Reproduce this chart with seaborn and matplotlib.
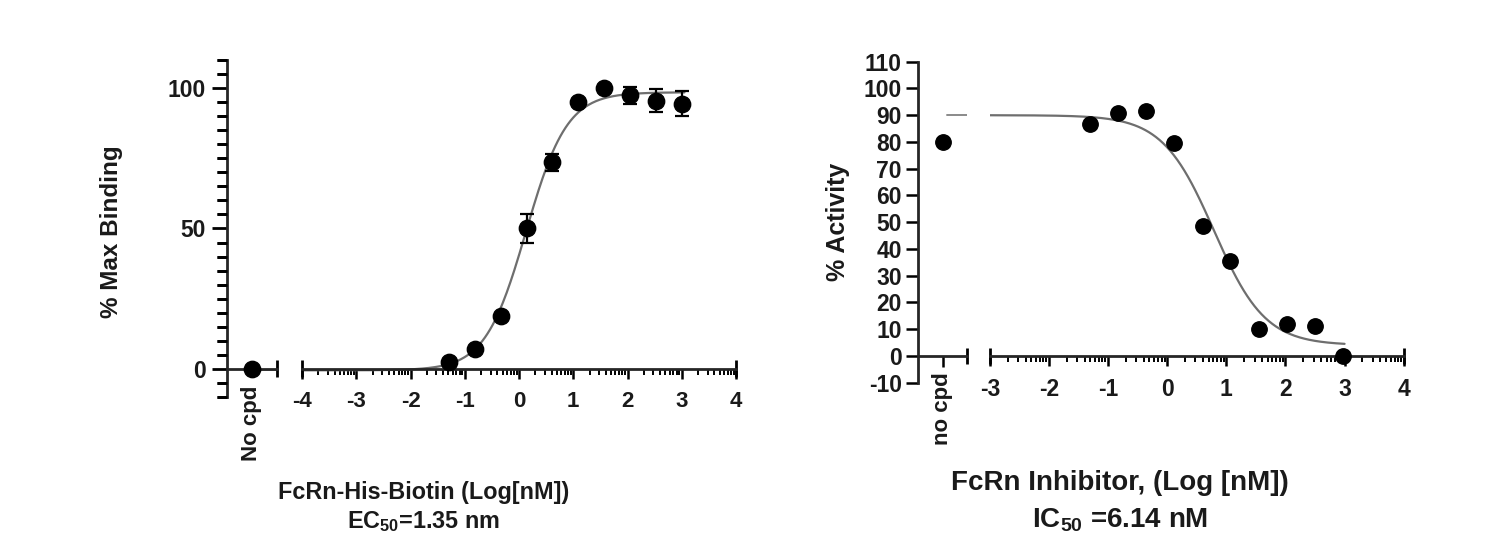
import numpy as np
import pandas as pd
import matplotlib
matplotlib.use("Agg")
import matplotlib.pyplot as plt
from matplotlib.ticker import MultipleLocator, FixedLocator, NullLocator
import seaborn as sns

# ---------------- data ----------------
left_x = [-1.29, -0.82, -0.34, 0.14, 0.61, 1.09, 1.57, 2.05, 2.52, 3.00]
left_y = [2.5, 7.0, 19.0, 50.0, 73.5, 95.0, 100.0, 97.5, 95.5, 94.5]
left_err = [0.0, 0.0, 0.0, 5.0, 3.0, 0.0, 0.0, 3.0, 4.0, 4.3]
left_nocpd_y = [0.0]
left_fit = dict(bottom=-0.5, top=98.5, logx50=np.log10(1.35), hill=1.15)

right_x = [-1.31, -0.83, -0.36, 0.11, 0.60, 1.06, 1.55, 2.03, 2.50, 2.97]
right_y = [86.6, 90.7, 91.4, 79.5, 48.5, 35.4, 10.0, 12.0, 11.2, 0.0]
right_nocpd_y = [80.0]
right_fit = dict(bottom=4.0, top=90.0, logx50=np.log10(6.14), hill=1.0)

left_xticks = [-4, -3, -2, -1, 0, 1, 2, 3, 4]
right_xticks = [-3, -2, -1, 0, 1, 2, 3, 4]
left_yticks = [0, 50, 100]
left_ystep = 5
right_yticks = list(range(-10, 111, 10))
YLIM = (-10, 110)

# ---------------- style ----------------
sns.set_theme(style="ticks")
plt.rcParams["font.family"] = ["Liberation Sans", "DejaVu Sans"]
plt.rcParams["font.weight"] = "bold"
plt.rcParams["axes.linewidth"] = 1.8
plt.rcParams["mathtext.fontset"] = "custom"
plt.rcParams["mathtext.rm"] = "Liberation Sans:bold"
plt.rcParams["mathtext.it"] = "Liberation Sans:bold"
plt.rcParams["mathtext.bf"] = "Liberation Sans:bold"
plt.rcParams["mathtext.default"] = "rm"

TXT = "#1a1a1a"
fig = plt.figure(figsize=(14.99, 5.59), dpi=100)

def logistic(x, p, decreasing=False):
    s = -1 if decreasing else 1
    return p["bottom"] + (p["top"] - p["bottom"]) / (1 + 10 ** (-s * p["hill"] * (x - p["logx50"])))

def style_axis(ax0, ax1, xlim_main, xticks, main_tick_size):
    for ax in (ax0, ax1):
        ax.set_ylim(*YLIM)
        ax.spines["top"].set_visible(False)
        ax.spines["right"].set_visible(False)
        ax.spines["left"].set_visible(False)
        ax.spines["bottom"].set_position(("data", 0))
        ax.spines["bottom"].set_linewidth(2.0)
        ax.set(xlabel=None, ylabel=None)
        ax.tick_params(axis="y", left=False, labelleft=False)
        ax.set_facecolor("none")
    ax0.set_xlim(-1, 1)
    ax1.set_xlim(*xlim_main)
    ax1.set_xticks(xticks)
    ax1.set_xticklabels([str(t) for t in xticks], fontsize=main_tick_size, fontweight="bold", color=TXT)
    minors = [i + np.log10(k) for i in range(int(xlim_main[0]), int(xlim_main[1])) for k in range(2, 10)]
    ax1.xaxis.set_minor_locator(FixedLocator(minors))
    ax1.tick_params(axis="x", which="major", direction="out", length=7, width=1.8, pad=9, color="black")
    ax1.tick_params(axis="x", which="minor", direction="out", length=4, width=1.4, bottom=True, color="black")
    cap = (YLIM[1] - YLIM[0]) * 0.025
    for x in xlim_main:
        ax1.vlines(x, -cap, cap, color="black", lw=2.0, clip_on=False)
    ax0.vlines(ax0.get_xlim()[1], -cap, cap, color="black", lw=2.0, clip_on=False)

def y_axis(rect):
    """Dedicated axes that only draws the vertical axis line and its ticks."""
    ay = fig.add_axes(rect)
    ay.set_facecolor("none")
    ay.set_ylim(*YLIM)
    ay.set_xlim(-1, 1)
    for s in ("top", "right", "bottom"):
        ay.spines[s].set_visible(False)
    ay.spines["left"].set_linewidth(2.0)
    ay.xaxis.set_major_locator(NullLocator())
    return ay

# ================= LEFT PANEL =================
rectL0 = [0.1514, 0.2898, 0.0334, 0.6029]
axL0 = fig.add_axes(rectL0)
axL1 = fig.add_axes([0.2015, 0.2898, 0.2895, 0.6029])

xc = np.linspace(-4, 3.05, 300)
curveL = pd.DataFrame({"x": xc, "y": logistic(xc, left_fit)})
sns.lineplot(data=curveL, x="x", y="y", ax=axL1, color="#6e6e6e", lw=1.6, zorder=2)
axL1.errorbar(left_x, left_y, yerr=left_err, fmt="none", ecolor="black", elinewidth=1.6, capsize=5, capthick=1.6, zorder=3)
sns.scatterplot(x=left_x, y=left_y, ax=axL1, color="black", s=140, edgecolor="black", zorder=4, clip_on=False)
sns.lineplot(x=[0.1, 1.0], y=[left_fit["bottom"]] * 2, ax=axL0, color="#8a8a8a", lw=1.4, zorder=2)
sns.scatterplot(x=[0.0], y=left_nocpd_y, ax=axL0, color="black", s=140, edgecolor="black", zorder=4, clip_on=False)

style_axis(axL0, axL1, (-4, 4), left_xticks, 16)
axL0.set_xticks([0])
axL0.set_xticklabels(["No cpd"], rotation=90, fontsize=16, fontweight="bold", color=TXT)
axL0.tick_params(axis="x", direction="out", length=6, width=1.8, pad=6, color="black")

ayL = y_axis(rectL0)
ayL.yaxis.set_major_locator(FixedLocator(left_yticks))
ayL.set_yticklabels([str(t) for t in left_yticks], fontsize=16.5, fontweight="bold", color=TXT)
ayL.yaxis.set_minor_locator(MultipleLocator(left_ystep))
ayL.tick_params(axis="y", which="major", direction="out", length=11, width=2.0, pad=4, color="black")
ayL.tick_params(axis="y", which="minor", direction="out", length=7, width=2.0, left=True, color="black")
# reinforce the 5-unit minor ticks as explicit short lines on top of everything
minor_len_frac = (7 / 72 * fig.dpi) / (rectL0[2] * fig.get_figwidth() * fig.dpi)
for yv in np.arange(YLIM[0], YLIM[1] + 0.1, left_ystep):
    if round(yv) not in left_yticks:
        ayL.axhline(yv, xmin=-minor_len_frac, xmax=0, color="black", lw=2.0,
                    clip_on=False, zorder=20, solid_capstyle="butt")

fig.text(0.0747, 1 - 232 / 559, "% Max Binding", rotation=90, ha="center", va="center",
         fontsize=17.5, fontweight="bold", color=TXT)
fig.text(0.2825, 1 - 492 / 559, "FcRn-His-Biotin (Log[nM])", ha="center", va="center",
         fontsize=16.8, fontweight="bold", color=TXT)
fig.text(0.2825, 1 - 522 / 559, "EC$_{50}$=1.35 nm", ha="center", va="center",
         fontsize=16.8, fontweight="bold", color=TXT)

# ================= RIGHT PANEL =================
rectR0 = [0.6127, 0.3154, 0.0322, 0.5742]
axR0 = fig.add_axes(rectR0)
axR1 = fig.add_axes([0.6604, 0.3154, 0.2760, 0.5742])

xr = np.linspace(-3, 3.0, 300)
curveR = pd.DataFrame({"x": xr, "y": logistic(xr, right_fit, decreasing=True)})
sns.lineplot(data=curveR, x="x", y="y", ax=axR1, color="#6e6e6e", lw=1.6, zorder=2)
sns.scatterplot(x=right_x, y=right_y, ax=axR1, color="black", s=125, edgecolor="black", zorder=4, clip_on=False)
sns.lineplot(x=[0.2, 1.0], y=[right_fit["top"]] * 2, ax=axR0, color="#8a8a8a", lw=1.4, zorder=2)
sns.scatterplot(x=[0.0], y=right_nocpd_y, ax=axR0, color="black", s=125, edgecolor="black", zorder=4, clip_on=False)

style_axis(axR0, axR1, (-3, 4), right_xticks, 16.5)
axR0.set_xticks([0])
axR0.set_xticklabels(["no cpd"], rotation=90, fontsize=16, fontweight="bold", color=TXT)
axR0.tick_params(axis="x", direction="out", length=8, width=1.8, pad=4, color="black")

ayR = y_axis(rectR0)
ayR.yaxis.set_major_locator(FixedLocator(right_yticks))
ayR.set_yticklabels([str(t) for t in right_yticks], fontsize=16.5, fontweight="bold", color=TXT)
ayR.tick_params(axis="y", which="major", direction="out", length=9, width=1.8, pad=3, color="black")

fig.text(0.559, 1 - 222 / 559, "% Activity", rotation=90, ha="center", va="center",
         fontsize=18, fontweight="bold", color=TXT)
fig.text(0.747, 1 - 483 / 559, "FcRn Inhibitor, (Log [nM])", ha="center", va="center",
         fontsize=20, fontweight="bold", color=TXT)
fig.text(0.747, 1 - 520 / 559, "IC$_{50}$ =6.14 nM", ha="center", va="center",
         fontsize=20, fontweight="bold", color=TXT)

fig.savefig("out.png", dpi=100, facecolor="white")
